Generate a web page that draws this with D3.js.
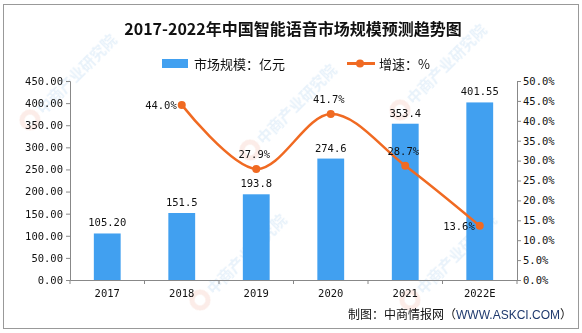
<!DOCTYPE html>
<html><head><meta charset="utf-8">
<script src="https://cdn.jsdelivr.net/npm/d3@7/dist/d3.min.js"></script>
<style>body{margin:0;background:#fff}svg{display:block}</style>
</head><body>
<svg id="c" width="582" height="333"></svg>
<script>
const categories = ["2017","2018","2019","2020","2021","2022E"];
const marketSize = [105.20,151.5,193.8,274.6,353.4,401.55];
const marketLabels = ["105.20","151.5","193.8","274.6","353.4","401.55"];
const growth = [null,44.0,27.9,41.7,28.7,13.6];
const growthLabels = ["","44.0%","27.9%","41.7%","28.7%","13.6%"];
const leftTicks = [0,50,100,150,200,250,300,350,400,450];
const rightTicks = [0,5,10,15,20,25,30,35,40,45,50];

const svg = d3.select("#c");
const W=582,H=333;
const m={l:70,r:65,t:81,b:53};
const pw=W-m.l-m.r, y0=H-m.b;

// frame
svg.append("rect").attr("x",3.5).attr("y",4.5).attr("width",575).attr("height",324)
  .attr("fill","#fff").attr("stroke","#999").attr("stroke-width",1);

// watermark (decorative)
const wm = svg.append("g").attr("opacity",0.12);
[[30,120],[200,300],[250,150],[400,110],[410,300]].forEach(([x,y])=>{
  const g=wm.append("g").attr("transform",`translate(${x},${y}) rotate(-45)`);
  g.append("circle").attr("cx",0).attr("cy",0).attr("r",8).attr("fill","none").attr("stroke","#e0603a").attr("stroke-width",5);
  g.append("text").attr("x",13).attr("y",6).attr("font-family","Noto Sans CJK SC").attr("font-weight","bold")
    .attr("font-size",15).attr("fill","#3a8fd8").text("中商产业研究院");
});

const x = d3.scaleBand().domain(categories).range([m.l,m.l+pw]).paddingInner(0.64).paddingOuter(0.32);
const xb = d3.scaleBand().domain(categories).range([m.l,m.l+pw]);
const yL = d3.scaleLinear().domain([0,450]).range([y0,m.t]);
const yR = d3.scaleLinear().domain([0,50]).range([y0,m.t]);

// title
svg.append("text").attr("x",293).attr("y",35).attr("text-anchor","middle")
  .attr("font-family","Noto Sans CJK SC").attr("font-weight","bold").attr("font-size",16)
  .attr("fill","#111").text("2017-2022年中国智能语音市场规模预测趋势图");

// legend
const lf="Noto Sans CJK SC";
svg.append("rect").attr("x",162).attr("y",59).attr("width",26).attr("height",9).attr("fill","#41a0f0");
svg.append("text").attr("x",194).attr("y",68.5).attr("font-family",lf).attr("font-size",13).attr("fill","#111").text("市场规模：亿元");
svg.append("line").attr("x1",347).attr("x2",375).attr("y1",63.5).attr("y2",63.5).attr("stroke","#f06a22").attr("stroke-width",3);
svg.append("circle").attr("cx",360).attr("cy",63.5).attr("r",4).attr("fill","#f06a22");
svg.append("text").attr("x",379).attr("y",68.5).attr("font-family",lf).attr("font-size",13).attr("fill","#111").text("增速：%");

const af="DejaVu Sans Mono, monospace";
// axes
const gl = svg.append("g").attr("transform",`translate(${m.l},0)`)
  .call(d3.axisLeft(yL).tickValues(leftTicks).tickSize(4).tickPadding(3).tickFormat(d=>d3.format(".2f")(d)));
const gr = svg.append("g").attr("transform",`translate(${m.l+pw},0)`)
  .call(d3.axisRight(yR).tickValues(rightTicks).tickSize(4).tickPadding(2).tickFormat(d=>d3.format(".1f")(d)+"%"));
const gx = svg.append("g").attr("transform",`translate(0,${y0})`)
  .call(d3.axisBottom(xb).tickSize(0).tickPadding(10));
[gl,gr,gx].forEach(g=>{
  g.select(".domain").attr("stroke","#888");
  g.selectAll(".tick line").attr("stroke","#888");
  g.selectAll("text").attr("font-family",af).attr("font-size",10.5).attr("fill","#111");
});
// x ticks between bands
svg.append("g").selectAll("line").data(d3.range(categories.length+1)).join("line")
  .attr("x1",i=>m.l+i*xb.step()).attr("x2",i=>m.l+i*xb.step())
  .attr("y1",y0).attr("y2",y0+4).attr("stroke","#888");

// bars
svg.append("g").selectAll("rect").data(marketSize).join("rect")
  .attr("x",(d,i)=>x(categories[i])).attr("width",x.bandwidth())
  .attr("y",d=>yL(d)).attr("height",d=>y0-yL(d)).attr("fill","#41a0f0");
svg.append("g").selectAll("text").data(marketSize).join("text")
  .attr("x",(d,i)=>x(categories[i])+x.bandwidth()/2).attr("y",d=>yL(d)-7)
  .attr("text-anchor","middle").attr("font-family",af).attr("font-size",10.5).attr("fill","#111")
  .text((d,i)=>marketLabels[i]);

// line
const pts = growth.map((v,i)=>({v,i})).filter(d=>d.v!=null);
const cx = d=>xb(categories[d.i])+xb.bandwidth()/2;
svg.append("path").datum(pts)
  .attr("d",d3.line().x(cx).y(d=>yR(d.v)).curve(d3.curveCardinal.tension(0)))
  .attr("fill","none").attr("stroke","#f06a22").attr("stroke-width",2.5);
svg.append("g").selectAll("circle").data(pts).join("circle")
  .attr("cx",cx).attr("cy",d=>yR(d.v)).attr("r",4).attr("fill","#f06a22");
const pos = ["","left","above","above","above","left"];
svg.append("g").selectAll("text").data(pts).join("text")
  .attr("x",d=>pos[d.i]==="left"?cx(d)-5:cx(d)-2)
  .attr("y",d=>pos[d.i]==="left"?yR(d.v)+4:yR(d.v)-11)
  .attr("text-anchor",d=>pos[d.i]==="left"?"end":"middle")
  .attr("font-family",af).attr("font-size",10.5).attr("fill","#111")
  .text(d=>growthLabels[d.i]);

// footer
const ft = svg.append("text").attr("x",572).attr("y",319).attr("text-anchor","end")
  .attr("font-family",lf).attr("font-size",12).attr("fill","#111");
ft.append("tspan").text("制图：中商情报网（");
ft.append("tspan").attr("fill","#1f3a6e").attr("font-family","Liberation Sans, Arial").text("WWW.ASKCI.COM");
ft.append("tspan").text("）");
</script>
</body></html>
